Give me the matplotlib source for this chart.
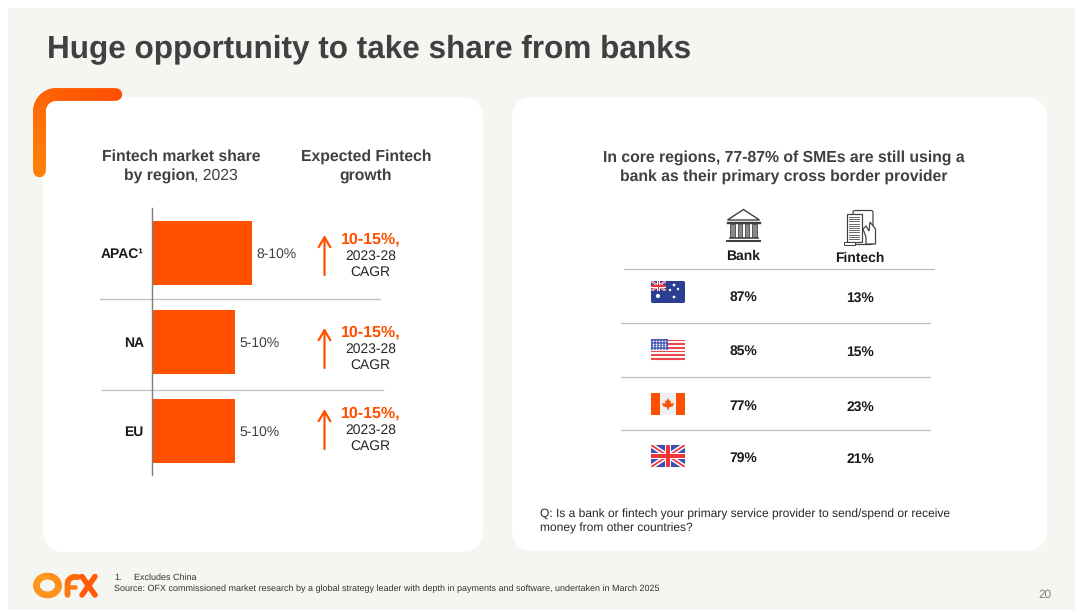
import numpy as np
import matplotlib
matplotlib.use("Agg")
import matplotlib.pyplot as plt
from matplotlib.collections import LineCollection
from matplotlib.patches import FancyBboxPatch, Rectangle, Polygon

plt.rcParams['font.family'] = ['Liberation Sans', 'DejaVu Sans']
plt.rcParams['text.hinting'] = 'no_hinting'
plt.rcParams['text.hinting_factor'] = 8

# левая панель: доля финтеха по регионам
regions = ['APAC¹', 'NA', 'EU']
share_mid = [9.0, 7.5, 7.5]
share_labels = ['8-10%', '5-10%', '5-10%']
growth_label = '10-15%,'

# правая панель: банк против финтеха
bank_share = [87, 85, 77, 79]
fintech_share = [13, 15, 23, 21]

ORANGE = '#ff5000'
BG = '#f5f5f2'
DARK = '#404040'

fig = plt.figure(figsize=(10.75, 6.1), dpi=100, facecolor='white')

# слой в пикселях для оформления слайда
page = fig.add_axes([0, 0, 1, 1])
page.set_xlim(0, 1075)
page.set_ylim(610, 0)
page.axis('off')


def rounded(x0, y0, x1, y1, r, color, z=1):
    p = FancyBboxPatch((x0 + r, y0 + r), x1 - x0 - 2 * r, y1 - y0 - 2 * r,
                       boxstyle=f'round,pad={r},rounding_size={r}',
                       fc=color, ec='none', zorder=z)
    page.add_patch(p)
    return p


def px(w):
    return w * 0.72  # толщина линии из пикселей в пункты


page.add_patch(Rectangle((8, 8), 1067, 602, fc=BG, ec='none', zorder=0))
rounded(43, 97, 483, 552, 22, 'white')
rounded(512, 97, 1047, 551, 22, 'white')

page.text(47, 49.5, 'Huge opportunity to take share from banks', fontsize=22.7,
          fontweight='bold', color=DARK, va='center', ha='left')


def gradient_line(xs, ys, c0, c1, width, z=3):
    pts = np.column_stack([xs, ys])
    segs = np.stack([pts[:-1], pts[1:]], axis=1)
    t = np.linspace(0, 1, len(segs))[:, None]
    a = np.array(matplotlib.colors.to_rgb(c0))
    b = np.array(matplotlib.colors.to_rgb(c1))
    lc = LineCollection(segs, colors=a + (b - a) * t, linewidths=px(width),
                        capstyle='round', zorder=z)
    lc.set_snap(False)
    page.add_collection(lc)


# уголок над левой панелью
ang = np.linspace(0, np.pi / 2, 20)
corner_x = np.r_[np.linspace(116, 56, 20), 56 - 16.5 * np.sin(ang), np.full(30, 39.5)]
corner_y = np.r_[np.full(20, 94.5), 111 - 16.5 * np.cos(ang), np.linspace(112, 171, 30)]
gradient_line(corner_x, corner_y, '#ff5000', '#ff7f0a', 12.5)

# заголовки колонок слева
page.text(181.5, 156.5, 'Fintech market share', fontsize=11.3, fontweight='bold',
          color=DARK, ha='center', va='center')
page.text(194.5, 175.5, 'by region', fontsize=11.3, fontweight='bold', color=DARK,
          ha='right', va='center')
page.text(194.5, 175.5, ', 2023', fontsize=11.3, color=DARK, ha='left', va='center')
page.text(366, 156.5, 'Expected Fintech', fontsize=11.3, fontweight='bold',
          color=DARK, ha='center', va='center')
page.text(366, 175.5, 'growth', fontsize=11.3, fontweight='bold', color=DARK,
          ha='center', va='center')

# столбики: ось в координатах данных
ax_left, ax_right, ax_top, ax_bottom = 152, 380, 208, 475
ax = fig.add_axes([ax_left / 1075, 1 - ax_bottom / 610,
                   (ax_right - ax_left) / 1075, (ax_bottom - ax_top) / 610])
ax.patch.set_alpha(0)
y_pos = np.arange(len(regions))
bars = ax.barh(y_pos, share_mid, height=0.71, color=ORANGE, zorder=2)
ax.set_xlim(0, 228 / 11.1)
ax.set_ylim(2 + 44 / 89, -45 / 89)
ax.set_yticks(y_pos, regions, fontweight='bold', fontsize=10, color='#1a1a1a')
ax.set_xticks([])
ax.tick_params(axis='y', length=0, pad=6)
for s in ['top', 'right', 'bottom']:
    ax.spines[s].set_visible(False)
ax.spines['left'].set_color('#7f7f7f')
ax.spines['left'].set_linewidth(1.0)
for t in ax.bar_label(bars, labels=share_labels, padding=3, fontsize=10, color=DARK):
    t.xyann = (3, -0.7)

# разделители рядов
page.plot([100, 380], [298.5, 298.5], color='#bfbfbf', lw=px(1.3), zorder=2)
page.plot([102, 383], [389.5, 389.5], color='#bfbfbf', lw=px(1.3), zorder=2)

# прогноз роста со стрелками
for ya, yt in zip([236, 329, 410], [239, 332, 413]):
    page.annotate('', xy=(324.5, ya - 1), xytext=(324.5, ya + 39),
                  arrowprops=dict(arrowstyle='->,head_width=0.42,head_length=0.72',
                                  color=ORANGE, lw=px(2.2), shrinkA=0, shrinkB=0),
                  zorder=3)
    page.text(370.5, yt, growth_label, fontsize=11.5, fontweight='bold',
              color=ORANGE, ha='center', va='center')
    page.text(370.5, yt + 17, '2023-28', fontsize=10, color='#262626',
              ha='center', va='center')
    page.text(370.5, yt + 33, 'CAGR', fontsize=10, color='#262626',
              ha='center', va='center')

# заголовок правой панели
page.text(784, 157.5, 'In core regions, 77-87% of SMEs are still using a', fontsize=11.3,
          fontweight='bold', color=DARK, ha='center', va='center')
page.text(784, 176.5, 'bank as their primary cross border provider', fontsize=11.3,
          fontweight='bold', color=DARK, ha='center', va='center')


def bank_icon(cx):
    c = '#404040'
    page.add_patch(Polygon([(cx, 209.5), (cx + 16, 220), (cx - 16, 220)], closed=True,
                           fc='white', ec=c, lw=px(1.4), zorder=3))
    page.plot([cx - 16, cx + 16], [222.5, 222.5], color=c, lw=px(2.4), zorder=3)
    for dx in [-11, -3.7, 3.7, 11]:
        page.add_patch(Rectangle((cx + dx - 2.2, 224), 4.4, 13, fc='#8a8a8a', ec=c,
                                 lw=px(0.8), zorder=3))
    page.plot([cx - 14, cx + 14], [237.5, 237.5], color=c, lw=px(1.6), zorder=3)
    page.plot([cx - 16.5, cx + 16.5], [240.5, 240.5], color=c, lw=px(2), zorder=3)


def fintech_icon(cx):
    c = '#404040'
    page.add_patch(FancyBboxPatch((cx - 7, 210.5), 20, 34,
                                  boxstyle='round,pad=0,rounding_size=2',
                                  fc='white', ec=c, lw=px(1.2), zorder=3))
    page.add_patch(Rectangle((cx - 13.5, 214), 15, 28, fc='white', ec=c, lw=px(1.2), zorder=4))
    for y in np.arange(217, 240, 2.2):
        page.plot([cx - 11.5, cx - 1], [y, y], color='#6e6e6e', lw=px(1), zorder=5)
    # ладонь поверх телефона
    page.add_patch(Polygon([(cx + 3, 229), (cx + 6, 226), (cx + 9, 231), (cx + 10, 222),
                            (cx + 15.5, 229), (cx + 15.5, 244), (cx + 6, 244), (cx + 6, 237)],
                           closed=True, fc='white', ec=c, lw=px(1.2), zorder=5))
    page.add_patch(Rectangle((cx - 16, 241.5), 11, 3.5, fc='white', ec=c, lw=px(1), zorder=5))


bank_x, fintech_x = 743.5, 860
bank_icon(bank_x)
fintech_icon(fintech_x)
page.text(bank_x, 256.5, 'Bank', fontsize=10, fontweight='bold', color='#1a1a1a',
          ha='center', va='center')
page.text(fintech_x, 258, 'Fintech', fontsize=10, fontweight='bold', color='#1a1a1a',
          ha='center', va='center')

# линии таблицы
for x0, x1, y in [(624, 934, 268.5), (621, 930, 322.5), (621, 930, 376.5), (621, 930, 430)]:
    page.plot([x0, x1], [y, y], color='#bdbdbd', lw=px(1.2), zorder=2)

# значения таблицы
bank_rows = [297, 351, 406, 458]
fintech_rows = [298, 352, 407, 459]
for b, f, yb, yf in zip(bank_share, fintech_share, bank_rows, fintech_rows):
    page.text(bank_x, yb, f'{b}%', fontsize=10, fontweight='bold', color='#1a1a1a',
              ha='center', va='center')
    page.text(fintech_x, yf, f'{f}%', fontsize=10, fontweight='bold', color='#1a1a1a',
              ha='center', va='center')


def flag_base(x0, y0, w, h, color):
    return rounded(x0, y0, x0 + w, y0 + h, 1.5, color, z=3)


def union_jack(x0, y0, w, h):
    red, white = '#f0343c', '#ffffff'
    box = Rectangle((x0, y0), w, h, transform=page.transData)
    for z, col, k in [(4, white, 0.22), (5, red, 0.08)]:
        for ya, yb in [(y0, y0 + h), (y0 + h, y0)]:
            line, = page.plot([x0, x0 + w], [ya, yb], color=col, lw=px(h * k), zorder=z)
            line.set_solid_capstyle('butt')
            line.set_clip_path(box)
    # прямой крест рисуем прямоугольниками
    for z, col, k in [(6, white, 0.3), (7, red, 0.17)]:
        t = h * k
        page.add_patch(Rectangle((x0 + w / 2 - t / 2, y0), t, h, fc=col, ec='none', zorder=z))
        page.add_patch(Rectangle((x0, y0 + h / 2 - t / 2), w, t, fc=col, ec='none', zorder=z))


# флаги: Австралия, США, Канада, Великобритания
fx, fw, fh = 651, 34, 22
flag_base(fx, 281, fw, fh, '#2a3f8f')
union_jack(fx, 281, 15, 10)
page.scatter([fx + 7, fx + 23, fx + 27, fx + 23, fx + 19],
             [296, 285, 289, 297, 290], s=[9, 4, 3, 4, 3], c='white', lw=0, zorder=5)

flag_base(fx, 339, fw, fh, '#f7f7f7')
for i in range(6):
    page.add_patch(Rectangle((fx, 339.5 + i * 3.7), fw, 1.8, fc='#f0444a', ec='none', zorder=4))
page.add_patch(Rectangle((fx, 339), 17, 11, fc='#4d5cb5', ec='none', zorder=5))
sx, sy = np.meshgrid(np.arange(fx + 2, fx + 16, 3), np.arange(341, 350, 2.6))
page.scatter(sx.ravel(), sy.ravel(), s=1.5, c='white', lw=0, zorder=6)

flag_base(fx, 393, fw, fh, '#eef1f2')
page.add_patch(Rectangle((fx, 393), 9, fh, fc=ORANGE, ec='none', zorder=4))
page.add_patch(Rectangle((fx + fw - 9, 393), 9, fh, fc=ORANGE, ec='none', zorder=4))
lx, ly = fx + 17, 404
page.add_patch(Polygon([(lx, ly - 6), (lx + 1.5, ly - 3), (lx + 3, ly - 3.5), (lx + 2.5, ly - 0.5),
                        (lx + 6, ly - 1), (lx + 5, ly + 1), (lx + 5.5, ly + 2), (lx + 1, ly + 3.5),
                        (lx + 0.5, ly + 6), (lx - 0.5, ly + 6), (lx - 1, ly + 3.5), (lx - 5.5, ly + 2),
                        (lx - 5, ly + 1), (lx - 6, ly - 1), (lx - 2.5, ly - 0.5), (lx - 3, ly - 3.5),
                        (lx - 1.5, ly - 3)], closed=True, fc=ORANGE, ec='none', zorder=5))

flag_base(fx, 445, fw, fh, '#3f51b5')
union_jack(fx, 445, fw, fh)

page.text(540, 514, 'Q: Is a bank or fintech your primary service provider to send/spend or receive',
          fontsize=8.65, color='#262626', ha='left', va='center')
page.text(540, 528.5, 'money from other countries?', fontsize=8.65, color='#262626',
          ha='left', va='center')

# логотип
theta = np.linspace(-np.pi / 2, 1.5 * np.pi, 50)
gradient_line(47.5 + 11 * np.cos(theta), 585.5 + 9.5 * np.sin(theta), '#ff8c1a', '#ff9a1f', 6.5)
a = np.linspace(np.pi, 1.5 * np.pi, 12)
f_x = np.r_[np.full(10, 67.5), 74.5 + 7 * np.cos(a), np.linspace(75, 78, 5)]
f_y = np.r_[np.linspace(595, 584, 10), 584 + 7 * np.sin(a), np.full(5, 577)]
gradient_line(f_x, f_y, '#ff7a10', '#ff6a08', 5.5)
page.plot([68, 75], [587, 587], color='#ff7a10', lw=px(4.5), solid_capstyle='round', zorder=3)
page.plot([82, 95], [576.5, 595], color='#ff5a05', lw=px(5.5), solid_capstyle='round', zorder=3)
page.plot([95, 82], [576.5, 595], color='#ff5a05', lw=px(5.5), solid_capstyle='round', zorder=3)

# сноски и номер слайда
page.text(114, 577.5, '1.', fontsize=6.5, color='#333333', ha='left', va='center')
page.text(134.5, 577.5, 'Excludes China', fontsize=6.5, color='#333333', ha='left', va='center')
page.text(114, 588.5, 'Source: OFX commissioned market research by a global strategy leader '
          'with depth in payments and software, undertaken in March 2025',
          fontsize=6.5, color='#333333', ha='left', va='center')
page.text(1045, 594.5, '20', fontsize=8.5, color='#808080', ha='center', va='center')

fig.savefig('out.png', dpi=100, facecolor=fig.get_facecolor())
